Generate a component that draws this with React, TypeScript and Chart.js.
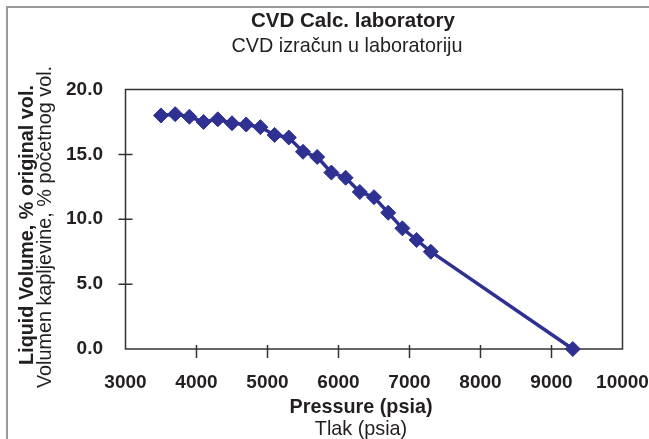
import React, { useEffect, useRef } from 'react';
import { Chart, registerables } from 'chart.js';

Chart.register(...registerables);

// ---- data ----
const pressure = [3500, 3700, 3900, 4100, 4300, 4500, 4700, 4900, 5100, 5300, 5500, 5700, 5900, 6100, 6300, 6500, 6700, 6900, 7100, 7300, 9300];
const liquidVolume = [18.0, 18.1, 17.9, 17.5, 17.7, 17.4, 17.3, 17.1, 16.5, 16.3, 15.2, 14.8, 13.6, 13.2, 12.1, 11.7, 10.5, 9.3, 8.4, 7.5, 0.0];
const xTickValues = [3000, 4000, 5000, 6000, 7000, 8000, 9000, 10000];
const yTickValues = [0, 5, 10, 15, 20];

const chartTitle = 'CVD Calc. laboratory';
const chartSubtitle = 'CVD izračun u laboratoriju';
const xTitle = 'Pressure (psia)';
const xSubtitle = 'Tlak (psia)';
const yTitle = 'Liquid Volume, % original vol.';
const ySubtitle = 'Volumen kapljevine, % početnog vol.';

const FONT = "'Liberation Sans', Arial, Helvetica, sans-serif";
const TEXT = '#231f20';
const SERIES = '#2e3192';
const W = 649;
const H = 439;

const decorPlugin = {
  id: 'decor',
  beforeDraw(chart: any) {
    const ctx = chart.ctx;
    ctx.save();
    ctx.fillStyle = '#ffffff';
    ctx.fillRect(0, 0, W, H);
    ctx.strokeStyle = '#9a9a9a';
    ctx.lineWidth = 2;
    ctx.strokeRect(7, 7, W + 20, H + 20);
    ctx.restore();
  },
  beforeDatasetsDraw(chart: any) {
    const ctx = chart.ctx;
    const a = chart.chartArea;
    const xs = chart.scales.x;
    const ys = chart.scales.y;
    ctx.save();
    ctx.strokeStyle = '#333333';
    ctx.lineWidth = 1.5;
    ctx.strokeRect(a.left, a.top, a.right - a.left, a.bottom - a.top);
    ctx.beginPath();
    xTickValues.forEach((v) => {
      const px = xs.getPixelForValue(v);
      if (v === xTickValues[0] || v === xTickValues[xTickValues.length - 1]) return;
      ctx.moveTo(px, a.bottom - 4);
      ctx.lineTo(px, a.bottom + 9);
    });
    yTickValues.forEach((v) => {
      const py = ys.getPixelForValue(v);
      if (v === yTickValues[0] || v === yTickValues[yTickValues.length - 1]) return;
      ctx.moveTo(a.left - 7, py);
      ctx.lineTo(a.left + 7, py);
    });
    ctx.stroke();
    ctx.restore();
  },
  afterDraw(chart: any) {
    const ctx = chart.ctx;
    ctx.save();
    ctx.fillStyle = TEXT;
    ctx.textAlign = 'center';
    ctx.textBaseline = 'alphabetic';
    ctx.font = `bold 20.5px ${FONT}`;
    ctx.fillText(chartTitle, 353, 27);
    ctx.font = `19.8px ${FONT}`;
    ctx.fillText(chartSubtitle, 347, 52);
    ctx.font = `bold 19.8px ${FONT}`;
    ctx.fillText(xTitle, 361, 413);
    ctx.font = `19.8px ${FONT}`;
    ctx.fillText(xSubtitle, 361, 435);

    ctx.textBaseline = 'middle';
    ctx.save();
    ctx.translate(28, 225);
    ctx.rotate(-Math.PI / 2);
    ctx.font = `bold 19.8px ${FONT}`;
    ctx.fillText(yTitle, 0, 0);
    ctx.restore();
    ctx.save();
    ctx.translate(46, 227);
    ctx.rotate(-Math.PI / 2);
    ctx.font = `19.8px ${FONT}`;
    ctx.fillText(ySubtitle, 0, 0);
    ctx.restore();
    ctx.restore();
  },
};

export default function App() {
  const canvasRef = useRef<HTMLCanvasElement | null>(null);

  useEffect(() => {
    if (!canvasRef.current) return;
    const data = pressure.map((p, i) => ({ x: p, y: liquidVolume[i] }));
    const chart = new Chart(canvasRef.current, {
      type: 'scatter',
      data: {
        datasets: [
          {
            data,
            showLine: true,
            borderColor: SERIES,
            backgroundColor: SERIES,
            borderWidth: 3.5,
            pointStyle: 'rectRot',
            pointRadius: 7.5,
            pointBorderWidth: 1,
            pointBorderColor: SERIES,
            pointBackgroundColor: SERIES,
            tension: 0,
            clip: false as any,
          },
        ],
      },
      options: {
        animation: false,
        responsive: false,
        devicePixelRatio: 1,
        layout: { padding: { top: 89.5, right: 26.5, bottom: 0, left: 0 } },
        plugins: {
          legend: { display: false },
          tooltip: { enabled: false },
          title: { display: false },
        },
        scales: {
          x: {
            type: 'linear',
            min: 3000,
            max: 10000,
            grid: { display: false, drawTicks: false },
            border: { display: false },
            ticks: {
              stepSize: 1000,
              padding: 22,
              color: TEXT,
              font: { family: FONT, size: 19, weight: 'bold' },
              maxRotation: 0,
              autoSkip: false,
              callback: (v: any) => String(v),
            },
            afterFit(scale: any) {
              scale.height = 90;
              scale.paddingLeft = 0;
              scale.paddingRight = 0;
            },
          },
          y: {
            type: 'linear',
            min: 0,
            max: 20,
            grid: { display: false, drawTicks: false },
            border: { display: false },
            ticks: {
              stepSize: 5,
              padding: 22.5,
              color: TEXT,
              font: { family: FONT, size: 19, weight: 'bold' },
              callback: (v: any) => Number(v).toFixed(1),
            },
            afterFit(scale: any) {
              scale.width = 125.5;
              scale.paddingTop = 0;
              scale.paddingBottom = 0;
            },
          },
        },
      },
      plugins: [decorPlugin],
    });
    return () => chart.destroy();
  }, []);

  return (
    <div style={{ position: 'absolute', left: 0, top: 0, width: W, height: H }}>
      <canvas ref={canvasRef} width={W} height={H} style={{ display: 'block', width: W, height: H }} />
    </div>
  );
}
